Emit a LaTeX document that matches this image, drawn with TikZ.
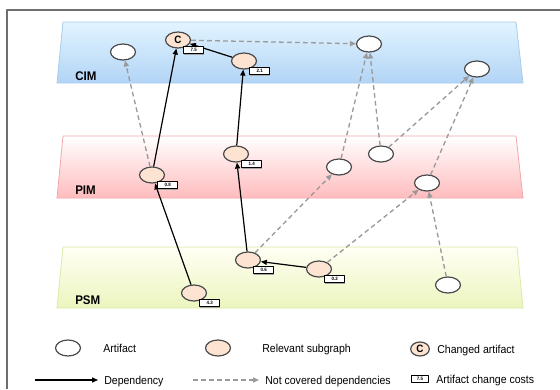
\documentclass[tikz,border=0pt]{standalone}
\usepackage{fontspec}
\setmainfont{Liberation Sans}[FakeStretch=0.92]
\usetikzlibrary{arrows.meta,shapes.geometric,shadows}
\definecolor{CimTop}{HTML}{E2F4FF}
\definecolor{CimMid}{HTML}{F2FBFF}
\definecolor{CimBot}{HTML}{B2D4F6}
\definecolor{CimEdge}{HTML}{A8CCEE}
\definecolor{PimTop}{HTML}{FFFFFF}
\definecolor{PimMid}{HTML}{FFEEEE}
\definecolor{PimBot}{HTML}{FFBCBE}
\definecolor{PimEdge}{HTML}{F0A8AA}
\definecolor{PsmTop}{HTML}{FFFFF4}
\definecolor{PsmMid}{HTML}{FCFDE0}
\definecolor{PsmBot}{HTML}{ECF5BE}
\definecolor{PsmEdge}{HTML}{D6EBA8}
\definecolor{Peach}{HTML}{FCE3D2}
\definecolor{NodeLine}{HTML}{4A4A4A}
\definecolor{DepGray}{HTML}{9A9A9A}
\definecolor{Frame}{HTML}{6E6E6E}
\tikzset{
  plane/.style={draw=#1Edge,line width=0.6pt,top color=#1Top,middle color=#1Mid,bottom color=#1Bot},
  layer/.style={font=\bfseries\fontsize{9.4}{9.4}\selectfont,anchor=west,inner sep=0pt},
  artifact/.style={ellipse,draw=NodeLine,line width=0.9pt,fill=white,minimum width=18.75pt,minimum height=12pt,inner sep=0pt},
  relevant/.style={artifact,fill=Peach},
  changed/.style={relevant,font=\bfseries\fontsize{8}{8}\selectfont},
  cost/.style={draw=black,fill=white,line width=0.6pt,minimum width=15pt,minimum height=5.5pt,inner sep=0pt,
    font=\bfseries\fontsize{3.6}{3.6}\selectfont,drop shadow={shadow xshift=0.6pt,shadow yshift=-0.6pt,fill=black!35,opacity=1}},
  dep/.style={-{Triangle[length=4.5pt,width=3.8pt]},line width=0.9pt,black},
  nocov/.style={-{Triangle[length=4.5pt,width=3.8pt]},line width=1pt,DepGray,dash pattern=on 3.5pt off 2.5pt},
  legend/.style={font=\fontsize{8.6}{10}\selectfont,anchor=base west,inner sep=0pt},
}

\begin{document}
\begin{tikzpicture}[x=0.75pt,y=-0.75pt,line join=round]
\useasboundingbox (0,0) rectangle (560,389);

% Frame
\draw[Frame,line width=1.1pt] (7,389) -- (7,10) -- (560,10);

% Planes
\path[plane=Cim] (63,22) -- (516,22) -- (523,83) -- (57,83) -- cycle;
\path[plane=Pim] (63,136) -- (516,136) -- (523,198) -- (57,198) -- cycle;
\path[plane=Psm] (63,247) -- (517,247) -- (523,308) -- (57,308) -- cycle;
\node[layer] (cimL) at (75,76) {CIM};
\node[layer] (pimL) at (75,190) {PIM};
\node[layer] (psmL) at (75,300) {PSM};

% CIM artifacts
\node[artifact] (cimA) at (123,52) {};
\node[changed]  (chg)  at (178,40) {C};
\node[relevant] (cimR) at (244,61) {};
\node[artifact] (cimB) at (369,44) {};
\node[artifact] (cimC) at (477,69) {};

% PIM artifacts
\node[relevant] (pimR1) at (152,175) {};
\node[relevant] (pimR2) at (236,154) {};
\node[artifact] (pimA)  at (339,167) {};
\node[artifact] (pimB)  at (381,154) {};
\node[artifact] (pimC)  at (427,183) {};

% PSM artifacts
\node[relevant] (psmR1) at (194,293) {};
\node[relevant] (psmR2) at (248,260) {};
\node[relevant] (psmR3) at (319,269) {};
\node[artifact] (psmA)  at (448,285) {};

% Dependencies
\draw[dep] (psmR1) -- (pimR1);
\draw[dep] (pimR1) -- (chg);
\draw[dep] (psmR2) -- (pimR2);
\draw[dep] (pimR2) -- (cimR);
\draw[dep] (cimR) -- (chg);
\draw[dep] (psmR3) -- (psmR2);

% Not covered dependencies
\draw[nocov] (pimR1) -- (cimA);
\draw[nocov] (chg) -- (cimB);
\draw[nocov] (psmR2) -- (pimA);
\draw[nocov] (pimA) -- (cimB);
\draw[nocov] (pimB) -- (cimB);
\draw[nocov] (pimB) -- (cimC);
\draw[nocov] (psmR3) -- (pimC);
\draw[nocov] (pimC) -- (cimC);
\draw[nocov] (psmA) -- (pimC);

% Change costs
\foreach \n/\c in {chg/7.5,cimR/2.1,pimR1/0.8,pimR2/1.4,psmR1/4.3,psmR2/0.6,psmR3/0.2}{
  \node[cost,anchor=north west] (\n c) at ([xshift=-3pt]\n.south east) {\c};
}

% Legend
\node[artifact] (lgA) at (68,348) {};
\node[legend] at (103,352) {Artifact};
\node[relevant] (lgR) at (218,348) {};
\node[legend] at (262,352) {Relevant subgraph};
\node[changed,minimum width=14pt,minimum height=10.5pt] (lgC) at (420,349) {C};
\node[legend] at (437,353) {Changed artifact};
\coordinate (lgD1) at (35,380);
\coordinate (lgD2) at (98,380);
\draw[dep] (lgD1) -- (lgD2);
\node[legend] at (104,384) {Dependency};
\coordinate (lgN1) at (193,380);
\coordinate (lgN2) at (259,380);
\draw[nocov] (lgN1) -- (lgN2);
\node[legend] at (265,384) {Not covered dependencies};
\node[cost,minimum width=13pt] (lgK) at (420,379) {7.5};
\node[legend] at (436,383) {Artifact change costs};

\end{tikzpicture}
\end{document}
